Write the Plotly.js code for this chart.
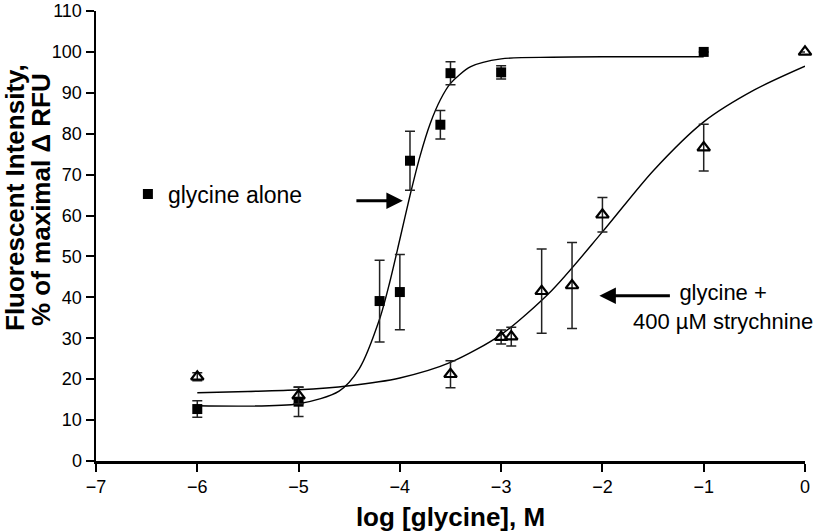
<!DOCTYPE html>
<html><head><meta charset="utf-8">
<script src="https://cdn.plot.ly/plotly-3.0.1.min.js"></script>
<style>html,body{margin:0;padding:0;background:#fff}</style>
</head><body><div id="chart" style="width:822px;height:532px"></div>
<script>
// glycine alone (filled squares)
const xAlone = [-6, -5, -4.2, -4.0, -3.9, -3.6, -3.5, -3.0, -1];
const yAlone = [12.7, 14.5, 39.1, 41.3, 73.4, 82.2, 94.8, 95.0, 100];
const eAlone = [2.0, 3.6, 10.0, 9.2, 7.2, 3.5, 2.8, 1.6, 0];

// glycine + 400 µM strychnine (open triangles)
const xStry = [-6, -5, -3.5, -3.0, -2.9, -2.6, -2.3, -2.0, -1, 0];
const yStry = [20.6, 16.0, 21.2, 30.3, 30.4, 41.5, 42.9, 60.2, 76.6, 100];
const eStry = [1.0, 2.0, 3.3, 1.7, 2.3, 10.3, 10.5, 4.2, 5.7, 0];

// fitted curves
const xFitAlone = [-6, -5, -4.6, -4.4, -4.2, -4.1, -4.0, -3.9, -3.8, -3.7, -3.6, -3.5, -3.3, -3.0, -2.5, -2, -1];
const yFitAlone = [13.5, 14.0, 17.1, 22.6, 34.7, 43.7, 54.2, 64.9, 74.6, 82.5, 88.3, 92.3, 96.4, 98.3, 98.7, 98.8, 98.8];
const xFitStry = [-6, -5.5, -5, -4.5, -4, -3.5, -3, -2.5, -2, -1.5, -1, -0.5, 0];
const yFitStry = [16.7, 17.0, 17.4, 18.4, 20.3, 24.1, 30.9, 41.7, 56.0, 70.9, 82.9, 90.7, 96.5];

// labels
const xTickVals = [-7, -6, -5, -4, -3, -2, -1, 0];
const yTickVals = [0, 10, 20, 30, 40, 50, 60, 70, 80, 90, 100, 110];
const xTitle = 'log [glycine], M';
const yTitleLines = ['Fluorescent Intensity,', '% of maximal \u0394 RFU'];
const nameAlone = 'glycine alone';
const labelStry = ['glycine +', '400 \u00b5M strychnine'];

const FONT = 'Liberation Sans, Arial, Helvetica, sans-serif';
const TOP = 11, BOT = 461, H = BOT - TOP;

const traces = [
  {x: xFitAlone, y: yFitAlone, mode: 'lines', line: {color: 'black', width: 1.4, shape: 'spline', smoothing: 0.8}, showlegend: false, hoverinfo: 'skip'},
  {x: xFitStry, y: yFitStry, mode: 'lines', line: {color: 'black', width: 1.4, shape: 'spline', smoothing: 0.8}, showlegend: false, hoverinfo: 'skip'},
  {x: xAlone, y: yAlone, name: nameAlone, mode: 'markers', type: 'scatter', cliponaxis: false,
   marker: {symbol: 'square', size: 10, color: 'black'},
   error_y: {type: 'data', array: eAlone, visible: true, color: '#222', thickness: 1.5, width: 5},
   showlegend: true},
  {x: xStry, y: yStry, name: labelStry.join(' '), mode: 'markers', type: 'scatter', cliponaxis: false,
   marker: {symbol: 'triangle-up-open', size: 11, color: 'black', line: {width: 2.2, color: 'black'}},
   error_y: {type: 'data', array: eStry, visible: true, color: '#222', thickness: 1.5, width: 5},
   showlegend: false}
];

const layout = {
  width: 822, height: 532,
  margin: {l: 96, r: 17, t: TOP, b: 532 - BOT},
  paper_bgcolor: 'white', plot_bgcolor: 'white',
  font: {family: FONT, color: 'black', size: 18},
  showlegend: true,
  legend: {x: 0.045, xanchor: 'left', y: (BOT - 194) / H, yanchor: 'middle', bgcolor: 'rgba(0,0,0,0)',
           font: {size: 23, family: FONT, color: 'black'}},
  xaxis: {range: [-7, 0], tickvals: xTickVals, ticks: 'outside', ticklen: 8, tickwidth: 2,
          showline: true, linewidth: 2.5, linecolor: 'black', tickcolor: 'black', showgrid: false, zeroline: false,
          tickfont: {size: 18, family: FONT, color: 'black'}, ticklabeloverflow: 'allow',
          title: {text: '<b>' + xTitle + '</b>', font: {size: 26, family: FONT}, standoff: 14}},
  yaxis: {range: [0, 110], tickvals: yTickVals, ticks: 'outside', ticklen: 8, tickwidth: 2,
          showline: true, linewidth: 2.5, linecolor: 'black', tickcolor: 'black', showgrid: false, zeroline: false,
          tickfont: {size: 18, family: FONT, color: 'black'}, ticklabeloverflow: 'allow'},
  annotations: [
    {xref: 'paper', yref: 'paper', x: (15 - 96) / 709, y: (BOT - 198) / H, xanchor: 'center', yanchor: 'middle',
     text: '<b>' + yTitleLines[0] + '</b>', textangle: -90, showarrow: false, font: {size: 26, family: FONT}},
    {xref: 'paper', yref: 'paper', x: (41 - 96) / 709, y: (BOT - 200) / H, xanchor: 'center', yanchor: 'middle',
     text: '<b>' + yTitleLines[1] + '</b>', textangle: -90, showarrow: false, font: {size: 26, family: FONT}},
    {x: -3.97, y: 63.6, ax: -48, ay: 0, text: '', showarrow: true, arrowhead: 2, arrowsize: 1.1, arrowwidth: 3, arrowcolor: 'black', standoff: 0},
    {x: -2.03, y: 40.4, ax: 72, ay: 0, text: '', showarrow: true, arrowhead: 2, arrowsize: 1.1, arrowwidth: 3, arrowcolor: 'black', standoff: 0},
    {x: -0.807, y: 37.6, xanchor: 'center', yanchor: 'middle', align: 'center',
     text: labelStry[0] + '<br>' + labelStry[1], showarrow: false, font: {size: 22, family: FONT}}
  ]
};

Plotly.newPlot('chart', traces, layout, {displayModeBar: false, staticPlot: true});
</script></body></html>
